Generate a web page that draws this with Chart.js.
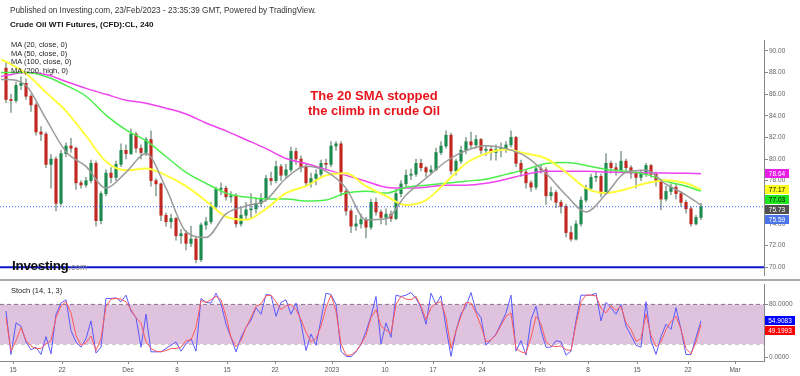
<!DOCTYPE html>
<html><head><meta charset="utf-8">
<script src="https://cdn.jsdelivr.net/npm/chart.js@4.4.0/dist/chart.umd.min.js"></script>
<style>
html,body{margin:0;padding:0;background:#fff;}
body{width:800px;height:376px;position:relative;overflow:hidden;font-family:Arial,"Liberation Sans",sans-serif;}
canvas{position:absolute;left:0;}
#main{top:0;}
#stoch{top:280px;}
.t{position:absolute;white-space:nowrap;}
</style></head><body>
<canvas id="main" width="800" height="280"></canvas>
<canvas id="stoch" width="800" height="96"></canvas>
<div style="position:absolute;left:0;top:279px;width:800px;height:2px;background:#a8a8a8"></div>
<div class="t" style="left:10px;top:6px;font-size:8.2px;line-height:10px;color:#333">Published on Investing.com, 23/Feb/2023 - 23:35:39 GMT, Powered by TradingView.</div>
<div class="t" style="left:10px;top:20px;font-size:8.1px;line-height:10px;font-weight:bold;color:#111">Crude Oil WTI Futures, (CFD):CL, 240</div>
<div class="t" style="left:11px;top:41px;font-size:7.5px;line-height:8.6px;color:#222">MA (20, close, 0)<br>MA (50, close, 0)<br>MA (100, close, 0)<br>MA (200, high, 0)</div>
<div class="t" style="left:290px;top:88px;width:168px;text-align:center;font-size:13px;line-height:15px;font-weight:bold;color:#e8141b">The 20 SMA stopped<br>the climb in crude Oil</div>
<div class="t" style="left:12px;top:258px;font-size:13.5px;line-height:15px;font-weight:bold;color:#111;letter-spacing:-0.3px">Investing<span style="font-size:8.5px;font-weight:normal;color:#888;letter-spacing:0">.com</span></div>
<div class="t" style="left:11px;top:286px;font-size:7.5px;line-height:9px;color:#222">Stoch (14, 1, 3)</div>
<script>
// ---------- DATA ----------
const candleOpen = [
88.4,85.5,85.4,86.8,87.0,85.8,85.0,82.5,82.3,79.5,
80.0,75.9,80.5,81.2,81.0,77.8,77.6,78.0,79.6,74.3,
76.8,78.7,78.3,79.5,80.8,80.5,82.3,81.0,80.6,81.8,
78.0,77.7,74.8,74.2,74.5,72.9,73.1,72.2,72.6,70.7,
73.9,74.2,75.6,77.2,77.3,76.5,76.6,74.0,74.8,75.3,
75.4,75.9,76.3,78.2,78.0,79.3,78.5,79.0,80.7,80.0,
79.3,77.8,78.2,78.6,79.6,79.5,81.2,81.4,77.0,75.2,
73.8,74.0,74.4,73.7,76.0,75.1,74.6,74.9,74.5,76.8,
77.7,78.5,78.6,79.6,79.2,78.8,79.0,80.6,81.2,82.2,
78.9,79.8,80.8,81.6,81.3,81.8,80.8,80.9,80.6,80.9,
81.0,81.3,82.0,79.6,78.8,77.8,77.4,79.1,79.0,76.6,
76.9,76.0,75.6,73.2,72.6,74.0,76.2,77.3,78.3,78.4,
76.8,79.6,79.2,79.0,79.8,79.2,78.7,78.3,78.6,79.4,
78.6,77.9,76.3,77.0,77.4,76.8,76.0,75.4,74.0,74.6];
const candleHigh = [
89.0,86.0,87.1,87.6,87.4,86.0,85.2,83.0,82.5,80.4,
80.2,80.8,81.5,81.9,81.1,78.0,78.3,79.9,79.8,77.0,
79.0,79.2,79.8,81.4,81.3,82.8,82.5,81.3,82.0,82.6,
78.2,77.8,75.0,74.9,74.6,73.5,73.4,73.8,72.8,74.1,
74.6,76.0,77.4,77.8,77.5,77.0,76.8,75.5,76.0,76.8,
76.4,76.8,78.5,78.8,79.8,79.5,79.5,81.1,81.0,80.3,
79.5,78.7,79.0,79.9,80.0,81.6,81.6,81.6,77.2,75.4,
74.8,74.9,74.6,76.3,76.4,75.3,75.4,75.2,77.2,78.0,
79.0,79.1,80.0,80.0,79.3,79.4,81.0,81.6,82.6,82.4,
80.0,81.2,82.0,82.5,82.2,81.9,81.2,81.1,81.3,81.5,
81.6,82.6,82.1,79.9,79.0,78.0,79.4,79.5,79.2,77.4,
77.1,76.2,75.8,73.8,74.3,76.5,77.6,78.6,78.8,78.6,
80.5,79.8,79.6,80.7,80.0,79.4,78.9,79.0,79.6,79.5,
78.8,78.0,77.5,77.7,77.7,77.0,76.2,75.6,74.8,75.9];
const candleLow = [
85.2,84.3,85.2,86.4,85.5,84.4,82.2,81.7,79.2,77.3,
75.2,75.7,80.2,80.6,77.2,77.3,77.4,77.8,73.8,74.0,
76.6,77.8,78.0,79.3,80.0,80.4,80.6,80.0,80.3,77.5,
76.6,74.3,73.8,73.6,72.5,72.2,71.6,71.9,70.4,70.5,
73.5,74.0,75.4,76.7,76.2,76.0,73.7,73.8,74.4,74.5,
75.0,75.6,76.1,77.6,77.8,78.0,78.2,78.8,79.5,78.8,
77.5,77.4,77.6,78.4,79.0,79.3,80.8,76.6,74.8,73.2,
73.4,73.6,72.7,73.5,74.8,74.0,73.9,74.2,74.4,76.5,
77.4,78.1,78.4,78.9,78.4,78.6,78.9,80.4,81.0,78.6,
78.5,79.6,80.5,81.0,81.0,80.5,80.3,79.9,79.9,80.2,
80.6,81.1,79.3,78.4,77.3,77.0,77.2,78.7,75.8,76.2,
75.5,75.0,72.8,72.4,72.5,73.8,76.0,77.1,77.9,76.5,
76.7,78.7,78.5,78.8,78.8,78.2,77.3,78.0,78.4,78.3,
77.5,75.3,76.1,76.7,76.3,75.6,75.0,73.8,73.9,74.4];
const candleClose = [
85.5,85.4,86.8,87.0,85.8,85.0,82.5,82.3,79.5,80.0,
75.9,80.5,81.2,81.0,77.8,77.6,78.0,79.6,74.3,76.8,
78.7,78.3,79.5,80.8,80.5,82.3,81.0,80.6,81.8,78.0,
77.7,74.8,74.2,74.5,72.9,73.1,72.2,72.6,70.7,73.9,
74.2,75.6,77.2,77.3,76.5,76.6,74.0,74.8,75.3,75.4,
75.9,76.3,78.2,78.0,79.3,78.5,79.0,80.7,80.0,79.3,
77.8,78.2,78.6,79.6,79.5,81.2,81.4,77.0,75.2,73.8,
74.0,74.4,73.7,76.0,75.1,74.6,74.9,74.5,76.8,77.7,
78.5,78.6,79.6,79.2,78.8,79.0,80.6,81.2,82.2,78.9,
79.8,80.8,81.6,81.3,81.8,80.8,80.9,80.6,80.9,81.0,
81.3,82.0,79.6,78.8,77.8,77.4,79.1,79.0,76.6,76.9,
76.0,75.6,73.2,72.6,74.0,76.2,77.3,78.3,78.4,76.8,
79.6,79.2,79.0,79.8,79.2,78.7,78.3,78.6,79.4,78.6,
77.9,76.3,77.0,77.4,76.8,76.0,75.4,74.0,74.6,75.59];

// moving averages, sampled at these candle positions
const maIdx = [-1,0,4,8,12,16,20,24,28,32,36,40,44,48,52,56,60,64,68,72,76,80,84,88,92,96,100,104,108,112,116,120,124,128,132,136,139];
const ma20  = [87.35,87.35,86.80,83.70,80.68,79.32,77.31,78.77,80.50,77.31,73.29,72.74,74.93,75.66,76.21,78.22,79.32,78.86,77.31,74.38,74.47,76.67,78.22,79.77,80.78,81.23,80.96,80.23,78.68,76.67,75.11,76.76,78.77,78.95,77.67,76.67,75.73];
const ma50  = [89.18,89.00,87.90,86.16,84.43,82.15,79.77,78.95,79.13,78.49,77.49,76.12,74.66,74.38,75.39,76.85,77.49,78.49,78.68,77.49,76.58,75.75,76.21,77.85,79.59,80.50,80.87,80.50,80.05,78.77,77.31,76.85,77.21,77.76,78.04,77.76,77.17];
const ma100 = [87.99,87.99,87.99,87.63,86.80,85.80,84.06,82.69,81.69,80.23,78.77,77.76,76.85,76.48,76.30,76.30,76.12,76.21,76.85,77.03,76.85,77.40,77.58,77.76,77.95,78.13,78.58,79.04,79.59,79.68,79.41,79.04,78.86,78.58,77.95,77.49,77.03];
const ma200 = [87.63,87.72,87.99,87.81,87.17,86.53,85.98,85.43,85.16,84.70,84.16,83.33,82.60,81.78,80.96,80.05,79.59,79.04,78.49,77.95,77.40,77.31,77.40,77.58,77.58,77.76,78.13,78.58,78.86,78.86,78.86,78.80,78.75,78.72,78.70,78.68,78.64];

const stochK = [
70,4,52,47,23,11,15,4,31,5, 65,82,87,40,23,15,28,55,6,15,
89,89,90,84,94,70,60,15,65,8, 8,8,13,18,23,9,20,28,9,89,
83,82,97,81,50,30,8,30,45,56, 75,65,95,94,62,83,87,65,82,52,
10,35,18,57,97,95,80,9,1,0.5, 8,19,39,62,92,20,52,30,94,92,
94,98,89,75,50,97,80,93,45,1, 40,66,77,98,70,60,18,26,35,51,
67,94,9,25,3,57,77,40,15,15, 25,23,3,9,55,94,94,94,97,55,
83,75,65,80,47,33,18,15,84,25, 4,31,50,42,75,42,4,4,30,54.9083];
const stochD = [
60,9,25,45,25,17,13,13,20,25, 60,78,84,67,33,18,22,32,10,28,
77,88,89,88,84,72,60,52,23,13, 9,8,10,13,13,15,25,26,45,86,
83,87,92,87,62,30,16,25,45,60, 77,81,93,94,84,72,78,80,72,57,
38,23,28,47,75,94,70,20,3,3, 9,20,33,60,72,47,41,36,80,92,
88,87,92,77,57,75,82,84,60,13, 40,62,83,82,67,47,23,26,34,48,
62,67,13,8,6,30,62,50,23,17, 16,17,11,10,50,84,94,94,93,74,
67,78,71,77,52,42,24,28,65,33, 16,23,42,54,62,42,13,5,23,49.1993];

const xTickIdx = [1.4,11.2,24.4,34.2,44.2,53.8,65.2,75.8,85.4,95.2,106.8,116.4,126.2,136.4,145.8];
const xTickLabels = ['15','22','Dec','8','15','22','2023','10','17','24','Feb','8','15','22','Mar'];
const priceTicks = [70,72,74,76,78,80,82,84,86,88,90];
const stochTicks = [0,80];
const stochBand = [20,80];
const supportLevel = 70;

// ---------- SETUP ----------
Chart.defaults.font.family = 'Arial, "Liberation Sans", sans-serif';
const X_MIN = -1.2, X_MAX = 151.6;
const idx = candleClose.map((_, i) => i);
const GREEN = '#1d8a4e', RED = '#c2281f', WICK = '#92a69a';
const lastClose = candleClose[candleClose.length - 1];
const pts = (xs, ys) => xs.map((x, i) => ({x, y: ys[i]}));
const lineDs = (arr, color, w) => ({type:'line', data: pts(maIdx, arr), borderColor: color, borderWidth: w,
  pointRadius: 0, cubicInterpolationMode: 'monotone', fill: false, order: 0});

function drawTags(chart, tags, x, w, h, digits) {
  const ctx = chart.ctx, sc = chart.scales.y;
  const items = tags.map(t => Object.assign({}, t, {py: sc.getPixelForValue(t.value)})).sort((a, b) => a.py - b.py);
  let prev = -1e9;
  ctx.save();
  ctx.font = '6.5px Arial, "Liberation Sans", sans-serif';
  ctx.textAlign = 'center'; ctx.textBaseline = 'middle';
  for (const it of items) {
    if (it.py < prev + h + 1) it.py = prev + h + 1;
    prev = it.py;
    ctx.fillStyle = it.bg; ctx.fillRect(x, Math.round(it.py - h / 2), w, h);
    ctx.fillStyle = it.fg; ctx.fillText(it.value.toFixed(digits), x + w / 2, Math.round(it.py - h / 2) + h / 2 + 0.5);
  }
  ctx.restore();
}

const mainTags = {
  id: 'mainTags',
  afterDraw(chart) {
    drawTags(chart, [
      {value: ma200[ma200.length - 1], bg: '#e61ee6', fg: '#fff'},
      {value: ma50[ma50.length - 1], bg: '#ffff1e', fg: '#000'},
      {value: ma100[ma100.length - 1], bg: '#1ee61e', fg: '#000'},
      {value: ma20[ma20.length - 1], bg: '#505050', fg: '#fff'},
      {value: lastClose, bg: '#4a74e8', fg: '#fff'}
    ], 765, 24, 9, 2);
  }
};
const stochTags = {
  id: 'stochTags',
  afterDraw(chart) {
    drawTags(chart, [
      {value: stochK[stochK.length - 1], bg: '#0000ff', fg: '#fff'},
      {value: stochD[stochD.length - 1], bg: '#ff0000', fg: '#fff'}
    ], 765, 30, 9, 4);
  }
};

const yAxisCommon = {
  position: 'right',
  afterFit(s) { s.width = 36; },
  grid: {drawOnChartArea: false, tickLength: 4, color: '#888'},
  border: {color: '#888'}
};

new Chart(document.getElementById('main'), {
  type: 'bar',
  data: {datasets: [
    lineDs(ma20, '#9a9a9a', 1.5),
    lineDs(ma50, '#ffff3c', 2),
    lineDs(ma100, '#4cee4c', 1.5),
    lineDs(ma200, '#ee44ee', 1.5),
    {type: 'line', data: [{x: X_MIN, y: lastClose}, {x: X_MAX, y: lastClose}], borderColor: '#3a5cf0', borderWidth: 1,
      borderDash: [1, 2], pointRadius: 0, fill: false, order: 0},
    {type: 'line', data: [{x: X_MIN, y: supportLevel}, {x: X_MAX, y: supportLevel}], borderColor: '#0a14d2', borderWidth: 2,
      pointRadius: 0, fill: false, order: 0},
    {type: 'bar', data: idx.map(i => ({x: i, y: [candleLow[i], candleHigh[i]]})), backgroundColor: WICK,
      barThickness: 1, grouped: false, order: 3},
    {type: 'bar', data: idx.map(i => ({x: i, y: [candleOpen[i], candleClose[i]]})),
      backgroundColor: idx.map(i => candleClose[i] >= candleOpen[i] ? GREEN : RED),
      barThickness: 2.5, minBarLength: 1, grouped: false, order: 2}
  ]},
  options: {
    responsive: false, animation: false, events: [],
    layout: {padding: {top: 40, bottom: 2, left: 0, right: 0}},
    plugins: {legend: {display: false}, tooltip: {enabled: false}},
    scales: {
      x: {type: 'linear', min: X_MIN, max: X_MAX, display: false, offset: false},
      y: Object.assign({}, yAxisCommon, {
        min: 69.27, max: 91.0,
        afterBuildTicks(s) { s.ticks = priceTicks.map(v => ({value: v})); },
        ticks: {callback: v => Number(v).toFixed(2), font: {size: 6.5}, color: '#666', padding: 1}
      })
    }
  },
  plugins: [mainTags]
});

new Chart(document.getElementById('stoch'), {
  type: 'line',
  data: {datasets: [
    {data: pts(idx, stochD), borderColor: '#ff5a5a', borderWidth: 1, pointRadius: 0, fill: false, order: 0},
    {data: pts(idx, stochK), borderColor: '#5a5aff', borderWidth: 1, pointRadius: 0, fill: false, order: 1},
    {data: [{x: X_MIN, y: stochBand[1]}, {x: X_MAX, y: stochBand[1]}], borderColor: '#8a748a', borderWidth: 1,
      borderDash: [4, 3], pointRadius: 0, fill: '+1', backgroundColor: '#dec2de', order: 3},
    {data: [{x: X_MIN, y: stochBand[0]}, {x: X_MAX, y: stochBand[0]}], borderColor: '#8a748a', borderWidth: 1,
      borderDash: [4, 3], pointRadius: 0, fill: false, order: 3}
  ]},
  options: {
    responsive: false, animation: false, events: [],
    layout: {padding: {top: 3, bottom: 0, left: 0, right: 0}},
    plugins: {legend: {display: false}, tooltip: {enabled: false}},
    scales: {
      x: {type: 'linear', min: X_MIN, max: X_MAX, offset: false,
        afterFit(s) { s.height = 15; },
        afterBuildTicks(s) { s.ticks = xTickIdx.map(v => ({value: v})); },
        ticks: {autoSkip: false, maxRotation: 0, font: {size: 6.5}, color: '#555', padding: 2,
          callback: (v, i) => xTickLabels[i]},
        grid: {drawOnChartArea: false, tickLength: 3, color: '#888'},
        border: {color: '#888'}},
      y: Object.assign({}, yAxisCommon, {
        min: -5.93, max: 109.6,
        afterBuildTicks(s) { s.ticks = stochTicks.map(v => ({value: v})); },
        ticks: {callback: v => Number(v).toFixed(4), font: {size: 6.5}, color: '#666', padding: 1}
      })
    }
  },
  plugins: [stochTags]
});
</script>
</body></html>
